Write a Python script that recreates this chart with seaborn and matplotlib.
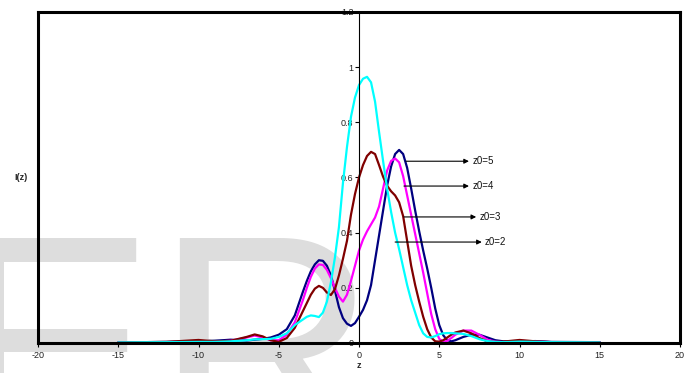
import numpy as np
import pandas as pd
import matplotlib
matplotlib.use("Agg")
import matplotlib.pyplot as plt
import seaborn as sns

# ---------------- data ----------------
z = [-15, -12, -10, -9, -8, -7, -6.5, -6, -5.5, -5, -4.5, -4, -3.5, -3.25, -3,
     -2.75, -2.5, -2.25, -2, -1.75, -1.5, -1.25, -1, -0.75, -0.5, -0.25, 0,
     0.25, 0.5, 0.75, 1, 1.25, 1.5, 1.75, 2, 2.25, 2.5, 2.75, 3, 3.25, 3.5,
     3.75, 4, 4.25, 4.5, 4.75, 5, 5.25, 5.5, 5.75, 6, 6.5, 7, 7.5, 8, 8.5, 9,
     10, 11, 12, 15]

I_z0_5 = [0.002, 0.004, 0.006, 0.008, 0.012, 0.009, 0.012, 0.015, 0.02, 0.03,
          0.05, 0.10, 0.185, 0.225, 0.26, 0.285, 0.30, 0.298, 0.28, 0.245,
          0.19, 0.13, 0.09, 0.07, 0.062, 0.072, 0.095, 0.12, 0.155, 0.21,
          0.30, 0.39, 0.48, 0.57, 0.64, 0.685, 0.70, 0.685, 0.635, 0.56,
          0.48, 0.405, 0.335, 0.27, 0.20, 0.125, 0.065, 0.028, 0.01, 0.006,
          0.01, 0.022, 0.03, 0.03, 0.02, 0.01, 0.006, 0.006, 0.007, 0.004,
          0.003]

I_z0_4 = [0.002, 0.003, 0.006, 0.005, 0.008, 0.02, 0.027, 0.02, 0.01, 0.01,
          0.03, 0.075, 0.155, 0.20, 0.24, 0.27, 0.285, 0.283, 0.265, 0.235,
          0.20, 0.168, 0.15, 0.175, 0.225, 0.28, 0.335, 0.375, 0.405, 0.43,
          0.455, 0.495, 0.56, 0.625, 0.66, 0.669, 0.655, 0.605, 0.535, 0.465,
          0.395, 0.325, 0.255, 0.18, 0.105, 0.05, 0.015, 0.004, 0.008, 0.018,
          0.03, 0.045, 0.045, 0.03, 0.012, 0.005, 0.003, 0.008, 0.005, 0.003,
          0.002]

I_z0_3 = [0.002, 0.004, 0.011, 0.006, 0.008, 0.022, 0.031, 0.024, 0.01, 0.004,
          0.018, 0.055, 0.115, 0.145, 0.175, 0.197, 0.207, 0.20, 0.183, 0.174,
          0.195, 0.245, 0.305, 0.37, 0.465, 0.54, 0.60, 0.645, 0.678, 0.693,
          0.685, 0.645, 0.603, 0.57, 0.55, 0.535, 0.51, 0.46, 0.37, 0.28,
          0.21, 0.15, 0.095, 0.05, 0.02, 0.006, 0.005, 0.01, 0.02, 0.03,
          0.038, 0.045, 0.035, 0.018, 0.006, 0.004, 0.005, 0.011, 0.006, 0.003,
          0.002]

I_z0_2 = [0.002, 0.003, 0.004, 0.004, 0.006, 0.01, 0.013, 0.014, 0.015, 0.022,
          0.035, 0.065, 0.085, 0.095, 0.10, 0.098, 0.094, 0.11, 0.15, 0.22,
          0.31, 0.42, 0.58, 0.71, 0.82, 0.89, 0.935, 0.958, 0.965, 0.945,
          0.875, 0.765, 0.66, 0.56, 0.475, 0.40, 0.34, 0.275, 0.21, 0.155,
          0.11, 0.065, 0.035, 0.022, 0.02, 0.025, 0.032, 0.035, 0.036, 0.036,
          0.035, 0.033, 0.025, 0.014, 0.007, 0.004, 0.003, 0.005, 0.004, 0.003,
          0.002]

series_names = ["z0=5", "z0=4", "z0=3", "z0=2"]
series_values = [I_z0_5, I_z0_4, I_z0_3, I_z0_2]
series_colors = ["#000080", "#FF00FF", "#800000", "#00FFFF"]

# label arrows: (start z, end z, y, text z)
arrow_start = [2.93, 2.8, 2.8, 2.25]
arrow_end = [6.85, 6.85, 7.3, 7.65]
arrow_y = [0.659, 0.569, 0.457, 0.366]
label_x = [7.05, 7.05, 7.5, 7.85]

x_ticks = [-20, -15, -10, -5, 0, 5, 10, 15, 20]
y_ticks = [0, 0.2, 0.4, 0.6, 0.8, 1, 1.2]
y_tick_labels = ["0", "0.2", "0.4", "0.6", "0.8", "1", "1.2"]

# ---------------- plot ----------------
sns.set_style("white")
plt.rcParams["font.family"] = ["Liberation Sans", "DejaVu Sans"]

df = pd.concat(
    [pd.DataFrame({"z": z, "I": v, "series": n}) for n, v in zip(series_names, series_values)],
    ignore_index=True)

fig = plt.figure(figsize=(6.91, 3.73), dpi=100)
fig.patch.set_facecolor("white")

# watermark
fig.text(-50 / 691, (373 - 450) / 373, "ER", fontsize=222, color="#dddddd",
         family="Liberation Sans", va="baseline", ha="left", zorder=-5)

ax = fig.add_axes([38 / 691, 30 / 373, (680 - 38) / 691, (343 - 12) / 373])
ax.set_facecolor("none")

sns.lineplot(data=df, x="z", y="I", hue="series", hue_order=series_names,
             palette=dict(zip(series_names, series_colors)), estimator=None,
             sort=False, linewidth=1.6, legend=False, ax=ax)
for ln in ax.get_lines():
    ln.set_solid_joinstyle("round")

for s, e, y, lx, txt in zip(arrow_start, arrow_end, arrow_y, label_x, series_names):
    ax.annotate("", xy=(e, y), xytext=(s, y),
                arrowprops=dict(arrowstyle="-|>", color="black", lw=0.8,
                                mutation_scale=7, shrinkA=0, shrinkB=0))
    ax.text(lx, y, txt, fontsize=7, va="center", ha="left", color="#111111")

ax.set_xlim(-20, 20)
ax.set_ylim(0, 1.2)
ax.set_xticks(x_ticks)
ax.set_xticklabels([str(t) for t in x_ticks])
ax.set_yticks(y_ticks)
ax.set_yticklabels(y_tick_labels)

# frame
for side in ["top", "right", "bottom"]:
    ax.spines[side].set_linewidth(2.2)
    ax.spines[side].set_color("black")
ax.spines["left"].set_position(("data", 0))
ax.spines["left"].set_linewidth(0.8)
ax.spines["left"].set_color("black")
ax.axvline(-20, color="black", lw=2.2, clip_on=False, solid_capstyle="projecting")

ax.tick_params(axis="x", direction="out", length=3, width=0.8, labelsize=6.5,
               colors="black", pad=3, bottom=True)
ax.tick_params(axis="y", direction="out", length=3, width=0.8, labelsize=6.5,
               colors="black", pad=1, left=True)
for lab in ax.get_xticklabels() + ax.get_yticklabels():
    lab.set_color("#222222")

ax.set_xlabel("")
ax.set_ylabel("")
fig.text(359 / 691, 3 / 373, "z", fontsize=6.5, fontweight="bold", ha="center",
         va="bottom")
fig.text(21 / 691, (373 - 178) / 373, "I(z)", fontsize=6.5, fontweight="bold",
         ha="center", va="center")

fig.savefig("out.png", dpi=100, facecolor="white")
